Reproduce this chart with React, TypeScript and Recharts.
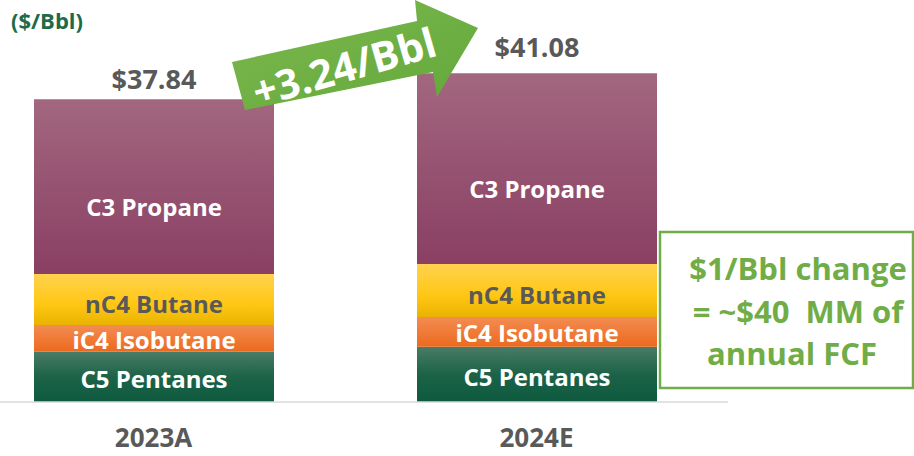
import { BarChart, Bar, XAxis, YAxis, LabelList } from 'recharts';

const years = ['2023A', '2024E'];
const c5Pentanes = [6.29, 6.92];
const ic4Isobutane = [3.33, 3.7];
const nc4Butane = [6.38, 6.62];
const c3Propane = [21.84, 23.84];
const totals = [37.84, 41.08];
const totalLabels = ['$37.84', '$41.08'];

const data = years.map((year, i) => ({
  year,
  c5: c5Pentanes[i],
  ic4: ic4Isobutane[i],
  nc4: nc4Butane[i],
  c3: c3Propane[i],
  total: totals[i],
  totalLabel: totalLabels[i],
}));

const FONT = '"Open Sans", Lato, sans-serif';
const GRAY = '#595959';
const GREEN = '#70AD47';

const segmentLabel = (text: string, color: string, shift: number) => (props: any) => {
  const { x, y, width, height } = props;
  return (
    <text
      x={x + width / 2}
      y={y + height / 2 + shift}
      textAnchor="middle"
      dominantBaseline="central"
      fill={color}
      fontFamily={FONT}
      fontWeight={700}
      fontSize={24}
    >
      {text}
    </text>
  );
};

const totalLabel = (props: any) => {
  const { x, y, width, index } = props;
  // the 2024E total sits a bit higher above its bar in the source slide
  const lift = index === 0 ? 21 : 27;
  return (
    <text
      x={x + width / 2}
      y={y - lift}
      textAnchor="middle"
      dominantBaseline="central"
      fill={GRAY}
      fontFamily={FONT}
      fontWeight={700}
      fontSize={27}
    >
      {data[index].totalLabel}
    </text>
  );
};

const YearTick = (props: any) => {
  const { x, y, payload } = props;
  return (
    <text
      x={x}
      y={y + 27}
      textAnchor="middle"
      dominantBaseline="central"
      fill={GRAY}
      fontFamily={FONT}
      fontWeight={700}
      fontSize={26}
    >
      {payload.value}
    </text>
  );
};

export default function App() {
  return (
    <div
      style={{
        position: 'fixed',
        left: 0,
        top: 0,
        width: 914,
        height: 456,
        overflow: 'hidden',
        background: '#fff',
      }}
    >
      <div style={{ position: 'absolute', left: -38, top: 0 }}>
        <BarChart width={766} height={456} data={data} margin={{ top: 2, right: 0, left: 0, bottom: 0 }}>
          <defs>
            <linearGradient id="gC3" x1="0" y1="0" x2="0" y2="1">
              <stop offset="0%" stopColor="#A2677F" />
              <stop offset="100%" stopColor="#8A3F63" />
            </linearGradient>
            <linearGradient id="gNC4" x1="0" y1="0" x2="0" y2="1">
              <stop offset="0%" stopColor="#FFD24F" />
              <stop offset="60%" stopColor="#FFC713" />
              <stop offset="100%" stopColor="#E8B300" />
            </linearGradient>
            <linearGradient id="gIC4" x1="0" y1="0" x2="0" y2="1">
              <stop offset="0%" stopColor="#F38C52" />
              <stop offset="100%" stopColor="#EC6A1E" />
            </linearGradient>
            <linearGradient id="gC5" x1="0" y1="0" x2="0" y2="1">
              <stop offset="0%" stopColor="#4A7B67" />
              <stop offset="50%" stopColor="#1C6348" />
              <stop offset="100%" stopColor="#0E5A3F" />
            </linearGradient>
          </defs>
          <XAxis
            dataKey="year"
            height={54}
            axisLine={{ stroke: '#D9D9D9', strokeWidth: 1.5 }}
            tickLine={false}
            tick={<YearTick />}
            interval={0}
          />
          <YAxis hide domain={[0, 50]} />
          <Bar dataKey="c5" stackId="a" fill="url(#gC5)" barSize={240} isAnimationActive={false}>
            <LabelList dataKey="c5" content={segmentLabel('C5 Pentanes', '#FFFFFF', 2)} />
          </Bar>
          <Bar dataKey="ic4" stackId="a" fill="url(#gIC4)" barSize={240} isAnimationActive={false}>
            <LabelList dataKey="ic4" content={segmentLabel('iC4 Isobutane', '#FFFFFF', 1)} />
          </Bar>
          <Bar dataKey="nc4" stackId="a" fill="url(#gNC4)" barSize={240} isAnimationActive={false}>
            <LabelList dataKey="nc4" content={segmentLabel('nC4 Butane', GRAY, 4)} />
          </Bar>
          <Bar dataKey="c3" stackId="a" fill="url(#gC3)" barSize={240} isAnimationActive={false}>
            <LabelList dataKey="c3" content={segmentLabel('C3 Propane', '#FFFFFF', 20)} />
            <LabelList dataKey="total" content={totalLabel} />
          </Bar>
        </BarChart>
      </div>

      <div
        style={{
          position: 'absolute',
          left: 11,
          top: 5,
          color: '#1E6B4A',
          fontFamily: FONT,
          fontWeight: 700,
          fontSize: 22,
          lineHeight: '30px',
        }}
      >
        ($/Bbl)
      </div>

      <svg width={914} height={456} style={{ position: 'absolute', left: 0, top: 0, pointerEvents: 'none' }}>
        <defs>
          <linearGradient id="gArrow" x1="0" y1="0" x2="1" y2="1">
            <stop offset="0%" stopColor="#7DB84E" />
            <stop offset="100%" stopColor="#62A83A" />
          </linearGradient>
        </defs>
        <polygon
          points="232,62 417,21 415,0 478,28 437,97 433,72 245,110"
          fill="url(#gArrow)"
        />
        <text
          x={344}
          y={66}
          textAnchor="middle"
          dominantBaseline="central"
          fill="#FFFFFF"
          fontFamily={FONT}
          fontWeight={700}
          fontSize={41}
          transform="rotate(-16 344 66)"
        >
          +3.24/Bbl
        </text>
        <rect x={660} y={232} width={253} height={156} fill="#FFFFFF" stroke={GREEN} strokeWidth={2.5} />
        <text fill={GREEN} fontFamily={FONT} fontWeight={700} fontSize={31} textAnchor="middle" style={{ whiteSpace: 'pre' }}>
          <tspan x={798} y={268} dominantBaseline="central">$1/Bbl change</tspan>
          <tspan x={798} y={311} dominantBaseline="central">{'= ~$40\u00A0 MM of'}</tspan>
          <tspan x={792} y={353} dominantBaseline="central">annual FCF</tspan>
        </text>
      </svg>
    </div>
  );
}
